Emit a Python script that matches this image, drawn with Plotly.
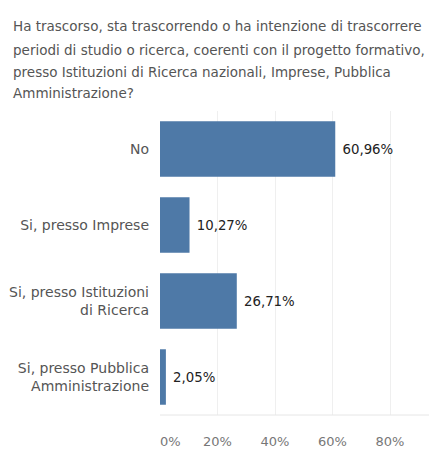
import plotly.graph_objects as go

categories = ["No", "Si, presso Imprese", "Si, presso Istituzioni<br>di Ricerca",
              "Si, presso Pubblica<br>Amministrazione"]
values = [60.96, 10.27, 26.71, 2.05]
tick_vals = [0, 20, 40, 60, 80]
tick_text = ["\u00a0\u00a0\u00a0\u00a0\u00a00%", "20%", "40%", "60%", "80%"]
title_lines = [
    "Ha trascorso, sta trascorrendo o ha intenzione di trascorrere",
    "periodi di studio o ricerca, coerenti con il progetto formativo,",
    "presso Istituzioni di Ricerca nazionali, Imprese, Pubblica",
    "Amministrazione?",
]

labels = ["\u00a0" + f"{v:.2f}".replace(".", ",") + "%" for v in values]

W, H = 429, 449
ML, MR, MT, MB = 160, 0, 111, 26
PW, PH = W - ML - MR, H - MT - MB
FONT = "DejaVu Sans"

fig = go.Figure(go.Bar(
    x=values, y=categories, orientation="h",
    marker=dict(color="#4e79a7", line=dict(width=0)),
    text=labels, textposition="outside", cliponaxis=False,
    textfont=dict(family=FONT, size=13.3, color="#222"),
    width=0.73, hoverinfo="skip",
))

line_y_px = [24, 48, 71, 93]
annotations = []
for t, py in zip(title_lines, line_y_px):
    annotations.append(dict(
        text=t, xref="paper", yref="paper",
        x=(11 - ML) / PW, y=(H - MB - py) / PH,
        xanchor="left", yanchor="middle", showarrow=False,
        font=dict(family=FONT, size=13.5, color="#555"),
    ))

fig.update_layout(
    width=W, height=H,
    margin=dict(l=ML, r=MR, t=MT, b=MB, pad=0),
    paper_bgcolor="white", plot_bgcolor="white",
    showlegend=False,
    annotations=annotations,
    xaxis=dict(
        range=[0, PW / 2.875], tickvals=tick_vals, ticktext=tick_text,
        showgrid=True, gridcolor="#efefef", gridwidth=1,
        zeroline=False, showline=False,
        ticks="", ticklabelstandoff=17,
        tickfont=dict(family=FONT, size=13, color="#777"),
        fixedrange=True,
    ),
    yaxis=dict(
        autorange="reversed", showgrid=False, zeroline=False,
        showline=False, ticks="", ticklabelstandoff=10,
        tickfont=dict(family=FONT, size=14, color="#555"),
        fixedrange=True,
    ),
    shapes=[dict(type="line", xref="paper", yref="paper", x0=0, x1=1, y0=0, y1=0,
                 line=dict(color="#e6e6e6", width=1))],
)

fig.write_html(
    "out.html",
    config={"displayModeBar": False},
    post_script="document.body.style.margin='0';document.body.style.overflow='hidden';",
)
